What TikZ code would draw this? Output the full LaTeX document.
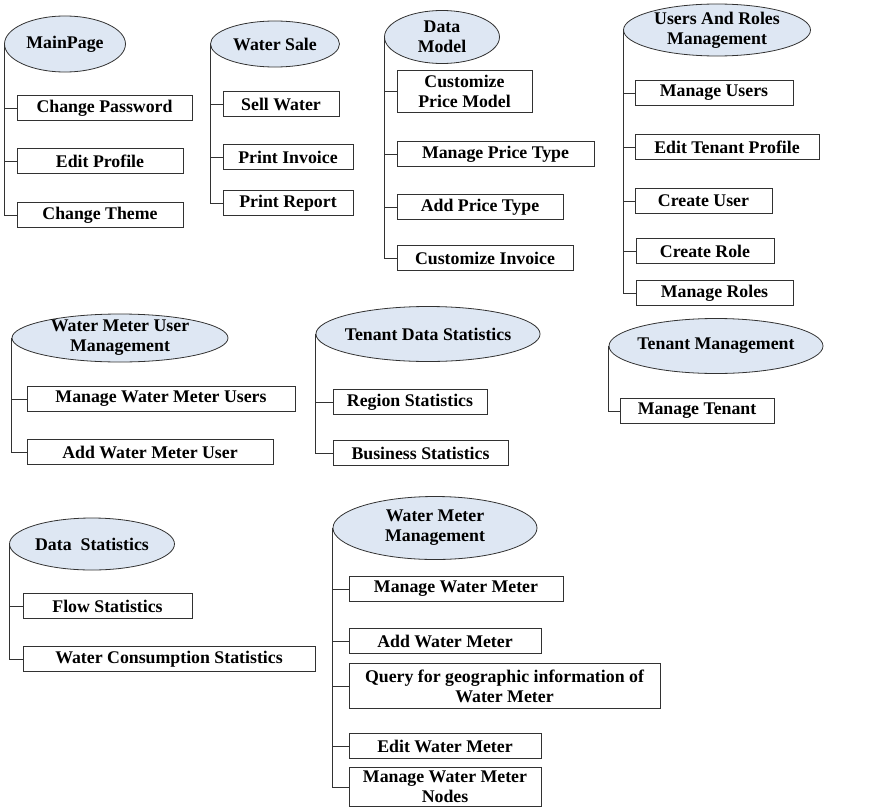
\documentclass[tikz,border=0pt]{standalone}
\usepackage{fontspec}
\setmainfont{Liberation Serif}
\usetikzlibrary{shapes.geometric}

\definecolor{modfill}{RGB}{222,231,243}
\definecolor{linegray}{RGB}{50,50,50}

\begin{document}
\begin{tikzpicture}[x=1pt, y=-1pt,
        every node/.style={font=\bfseries\fontsize{17.8}{20}\selectfont, align=center},
        module/.style={ellipse, draw=linegray, fill=modfill, line width=0.8pt, inner sep=-4pt},
        func/.style={rectangle, draw=linegray, line width=0.8pt, minimum height=25pt, inner sep=1pt},
        link/.style={draw=linegray, line width=0.8pt}]

    \useasboundingbox (0,0) rectangle (874,808);

    % main page
    \node[module, minimum width=121pt, minimum height=56pt] (mp) at (65,44) {MainPage};
    \node[func, minimum width=175pt] (cpw) at (104.5,108) {Change Password};
    \node[func, minimum width=166pt] (ep) at (100,161) {Edit Profile};
    \node[func, minimum width=166pt] (ct) at (100,215) {Change Theme};
    \draw[link] (mp.west) |- (ct.west);
    \foreach \b in {cpw,ep} \draw[link] (mp.west |- \b.west) -- (\b.west);

    % water sale
    \node[module, minimum width=129pt, minimum height=46pt] (ws) at (275,44) {Water Sale};
    \node[func, minimum width=116pt] (sw) at (281,104) {Sell Water};
    \node[func, minimum width=130pt] (pi) at (288,157) {Print Invoice};
    \node[func, minimum width=130pt] (pr) at (288,203) {Print Report};
    \draw[link] (ws.west) |- (pr.west);
    \foreach \b in {sw,pi} \draw[link] (ws.west |- \b.west) -- (\b.west);

    % data model
    \node[module, minimum width=115pt, minimum height=53pt] (dm) at (442,37) {Data\\Model};
    \node[func, minimum width=135pt, minimum height=42pt] (cpm) at (464.5,91) {Customize\\Price Model};
    \node[func, minimum width=197pt] (mpt) at (495.5,154) {Manage Price Type};
    \node[func, minimum width=166pt] (apt) at (480,207) {Add Price Type};
    \node[func, minimum width=176pt] (ci) at (485,258) {Customize Invoice};
    \draw[link] (dm.west) |- (ci.west);
    \foreach \b in {cpm,mpt,apt} \draw[link] (dm.west |- \b.west) -- (\b.west);

    % users and roles
    \node[module, minimum width=187pt, minimum height=52pt] (urm) at (717,30) {Users And Roles\\Management};
    \node[func, minimum width=158pt] (mu) at (714,93) {Manage Users};
    \node[func, minimum width=184pt] (etp) at (727,147) {Edit Tenant Profile};
    \node[func, minimum width=137pt] (cu) at (703.5,201) {Create User};
    \node[func, minimum width=138pt] (cr) at (705,251) {Create Role};
    \node[func, minimum width=157pt] (mr) at (714.5,293) {Manage Roles};
    \draw[link] (urm.west) |- (mr.west);
    \foreach \b in {mu,etp,cu,cr} \draw[link] (urm.west |- \b.west) -- (\b.west);

    % water meter users
    \node[module, minimum width=216pt, minimum height=48pt] (wmum) at (120,338) {Water Meter User\\Management};
    \node[func, minimum width=268pt] (mwmu) at (161,399) {Manage Water Meter Users};
    \node[func, minimum width=246pt] (awmu) at (150,452) {Add Water Meter User};
    \draw[link] (wmum.west) |- (awmu.west);
    \draw[link] (wmum.west |- mwmu.west) -- (mwmu.west);

    % tenant data statistics
    \node[module, minimum width=219pt, minimum height=55pt] (tds) at (428,334) {Tenant Data Statistics};
    \node[func, minimum width=154pt] (rs) at (410,402) {Region Statistics};
    \node[func, minimum width=175pt] (bs) at (420.5,453) {Business Statistics};
    \draw[link] (tds.west) |- (bs.west);
    \draw[link] (tds.west |- rs.west) -- (rs.west);

    % tenant management
    \node[module, minimum width=214pt, minimum height=55pt] (tm) at (716,346) {Tenant Management};
    \node[func, minimum width=154pt] (mt) at (697,411) {Manage Tenant};
    \draw[link] (tm.west) |- (mt.west);

    % data statistics
    \node[module, minimum width=165pt, minimum height=52pt] (ds) at (92,544) {Data\ \ Statistics};
    \node[func, minimum width=169pt] (fs) at (107.5,606) {Flow Statistics};
    \node[func, minimum width=292pt] (wcs) at (169,659) {Water Consumption Statistics};
    \draw[link] (ds.west) |- (wcs.west);
    \draw[link] (ds.west |- fs.west) -- (fs.west);

    % water meter management
    \node[module, minimum width=204pt, minimum height=63pt] (wmm) at (435,528) {Water Meter\\Management};
    \node[func, minimum width=214pt] (mwm) at (456,589) {Manage Water Meter};
    \node[func, minimum width=192pt] (awm) at (445,641) {Add Water Meter};
    \node[func, minimum width=311pt, minimum height=45pt] (qgi) at (504.5,686) {Query for geographic information of\\Water Meter};
    \node[func, minimum width=192pt] (ewm) at (445,746) {Edit Water Meter};
    \node[func, minimum width=192pt, minimum height=39pt] (mwmn) at (445,787) {Manage Water Meter\\Nodes};
    \draw[link] (wmm.west) |- (mwmn.west);
    \foreach \b in {mwm,awm,qgi,ewm} \draw[link] (wmm.west |- \b.west) -- (\b.west);

\end{tikzpicture}
\end{document}
